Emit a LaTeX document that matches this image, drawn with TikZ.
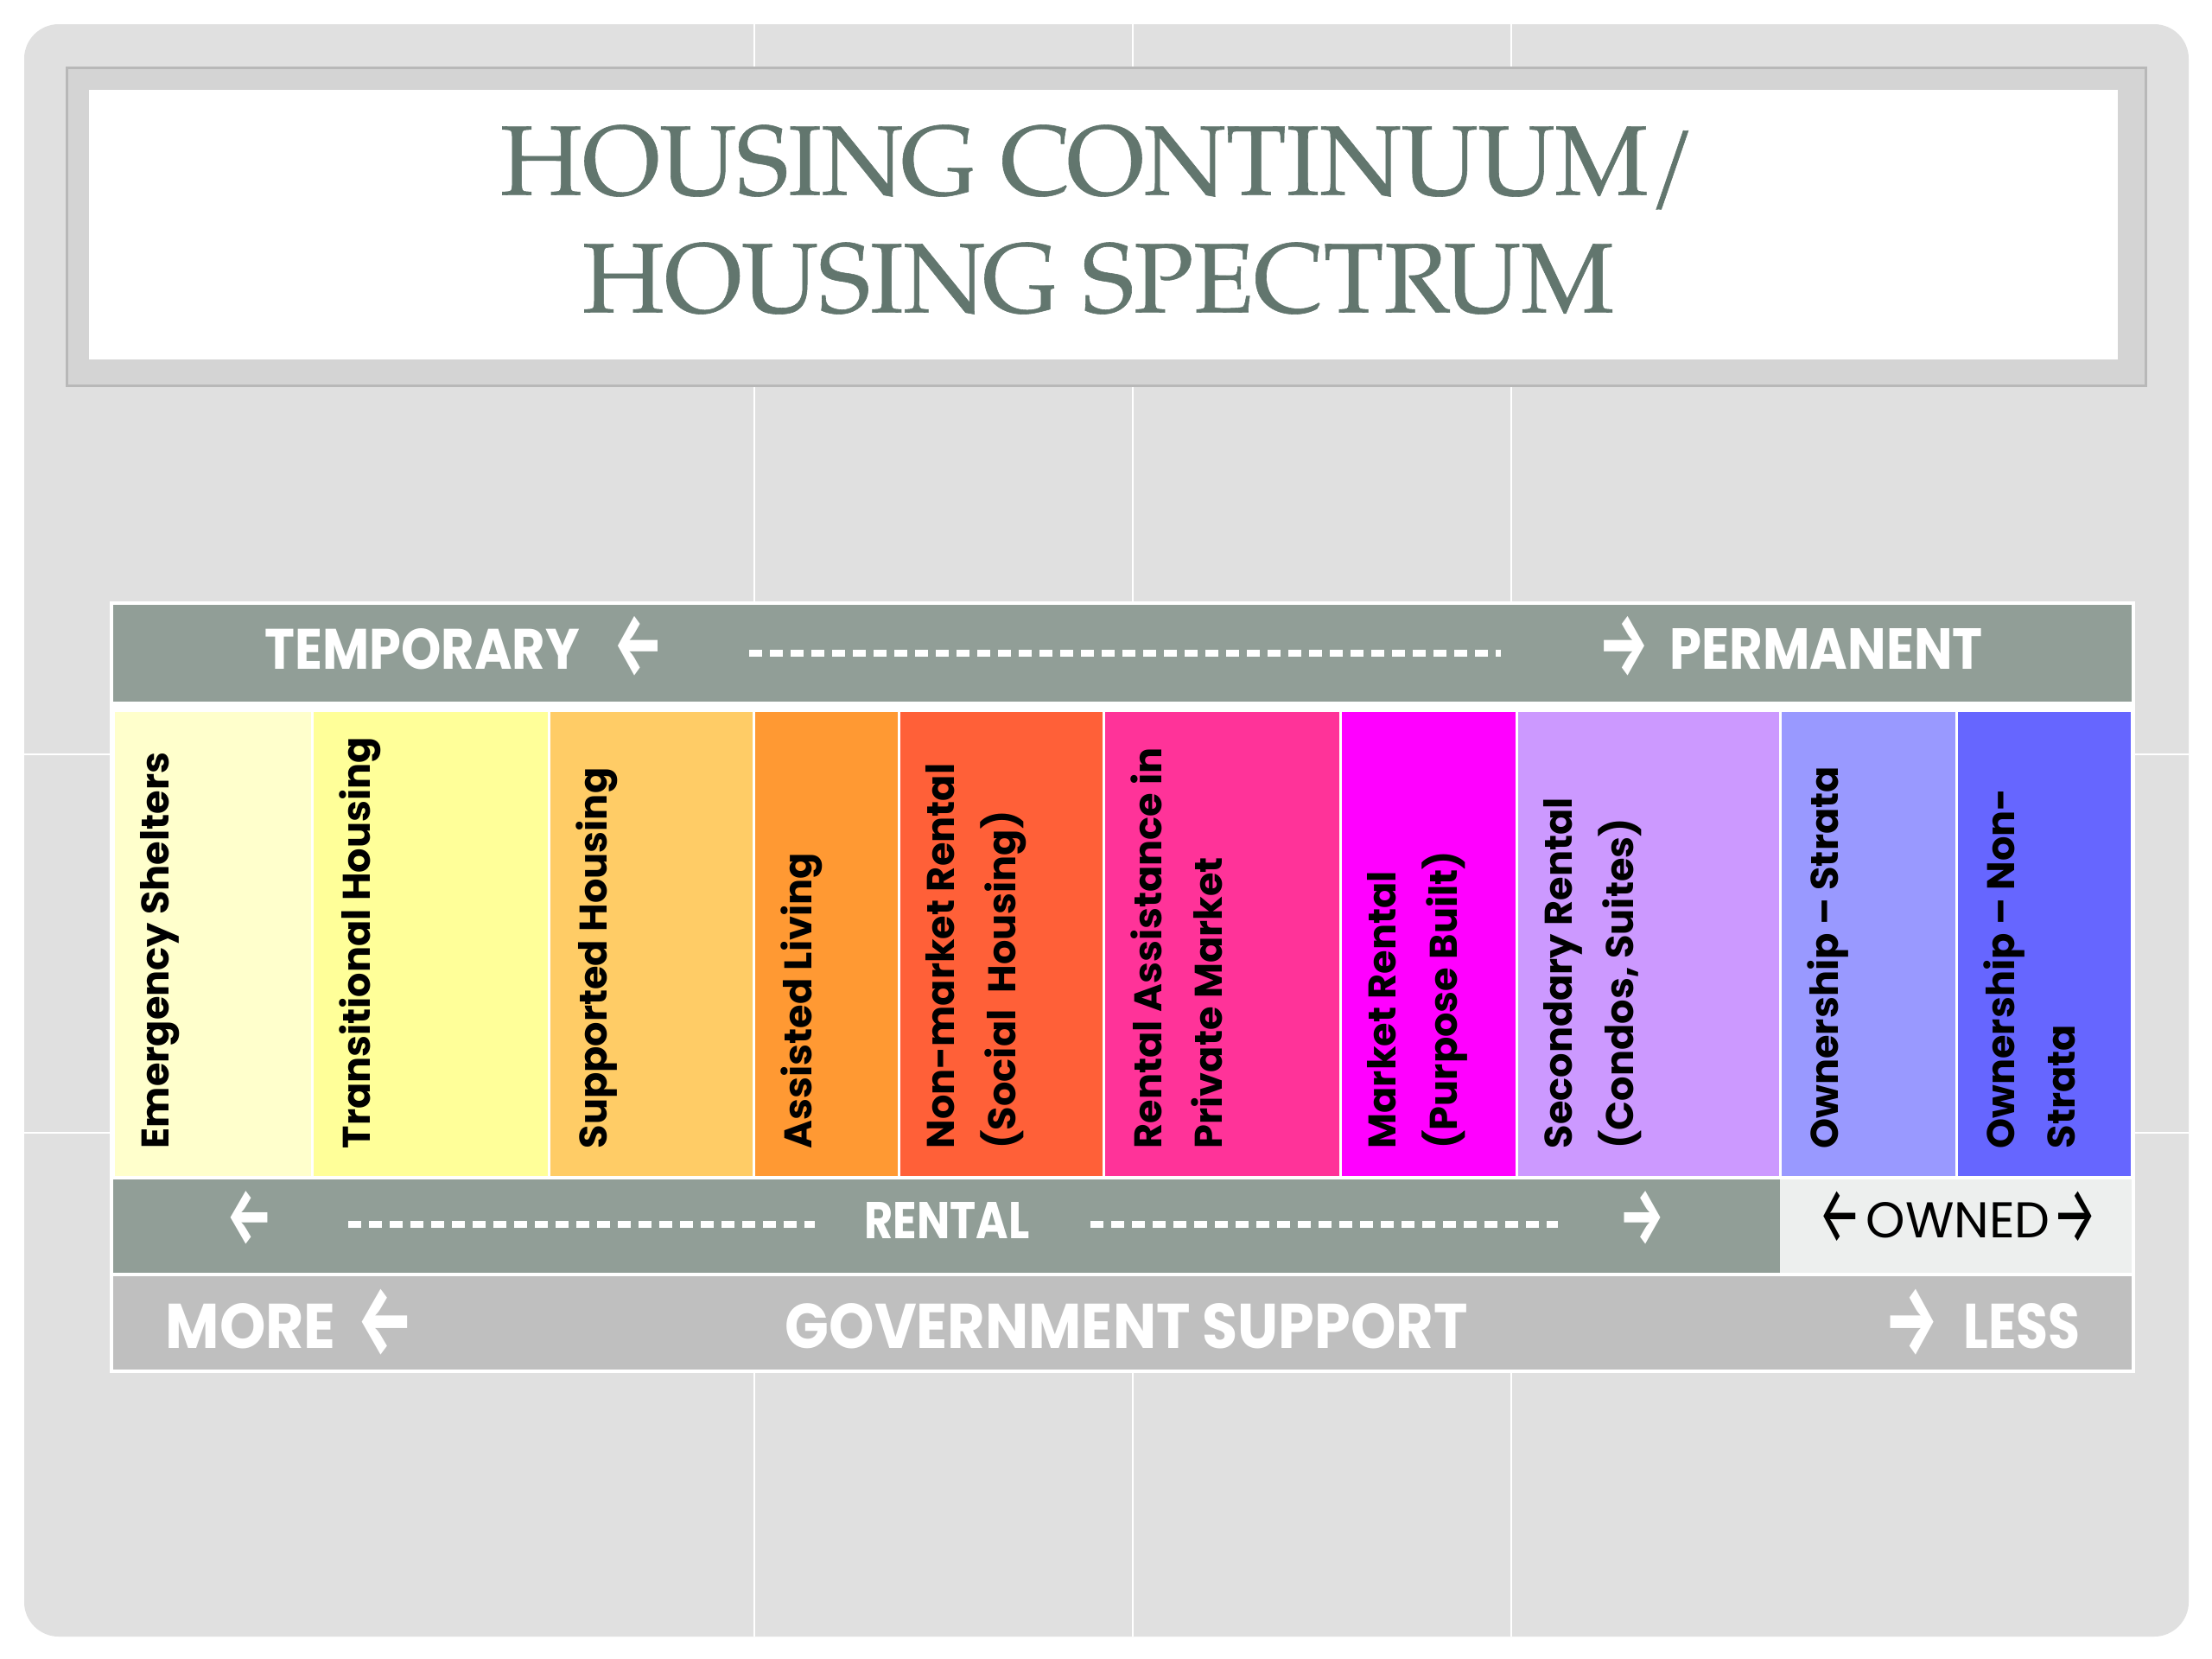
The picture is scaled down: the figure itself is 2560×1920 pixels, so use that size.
\documentclass[tikz,border=0pt]{standalone}
\usepackage{fontspec}
\usepackage{graphicx}
\setsansfont{Poppins}
\newfontfamily\arrowfont{Fira Sans}
\newfontfamily\titleface{texgyrepagella-regular.otf}[FakeBold=0.5]

\definecolor{slideGray}{HTML}{E0E0E0}
\definecolor{frameGray}{HTML}{D4D4D4}
\definecolor{frameEdge}{HTML}{B8B8B8}
\definecolor{titleGreen}{HTML}{62766E}
\definecolor{barGreen}{HTML}{919E97}
\definecolor{ownedGray}{HTML}{EDEFEE}
\definecolor{govGray}{HTML}{BFBFBF}
\definecolor{cShelter}{HTML}{FFFFCC}
\definecolor{cTransit}{HTML}{FFFF99}
\definecolor{cSupport}{HTML}{FFCC66}
\definecolor{cAssist}{HTML}{FF9933}
\definecolor{cNonMarket}{HTML}{FF6038}
\definecolor{cRentAssist}{HTML}{FF3399}
\definecolor{cMarket}{HTML}{FF00FF}
\definecolor{cSecondary}{HTML}{CC99FF}
\definecolor{cStrata}{HTML}{9999FF}
\definecolor{cNonStrata}{HTML}{6666FF}

\newcommand\cellfont{\sffamily\bfseries\fontsize{12.7pt}{20pt}\selectfont}
\newcommand\titlefont{\titleface\fontsize{33pt}{38.7pt}\selectfont}
% arrow glyph stretched to the cap height #2
\newcommand\arrL[2]{\raisebox{-0.1525\dimexpr#2\relax}{\arrowfont\resizebox{#1}{1.45\dimexpr#2\relax}{←}}}
\newcommand\arrR[2]{\raisebox{-0.1525\dimexpr#2\relax}{\arrowfont\resizebox{#1}{1.45\dimexpr#2\relax}{→}}}

\begin{document}
\begin{tikzpicture}[
  x=0.1mm, y=-0.1mm,
  cell/.style={rotate=90,anchor=north west,inner sep=3.1mm,align=left,font=\cellfont},
  bartext/.style={text=white,inner sep=0pt,anchor=base west,font=\sffamily\bfseries},
  dashline/.style={white,line width=0.8mm,dash pattern=on 1.5mm off 0.9mm},
  seam/.style={white,line width=0.2mm}
]
\useasboundingbox (0,0) rectangle (2560,1920);
\fill[white] (0,0) rectangle (2560,1920);

% slide background
\fill[slideGray,rounded corners=4mm] (28,28) rectangle (2533,1894);
\foreach \s in {873,1311,1749}
  \draw[seam] (\s,28) -- (\s,1894);
\foreach \s in {873,1311}
  \draw[seam] (28,\s) -- (2533,\s);

% title
\filldraw[fill=frameGray,draw=frameEdge,line width=0.3mm] (77,78) rectangle (2483,446);
\fill[white] (103,104) rectangle (2451,416);
\node[font=\titlefont,text=titleGreen,align=center,inner sep=0pt] (title) at (1271,254)
  {\resizebox{138.4mm}{!}{HOUSING CONTINUUM/}\\\resizebox{119.4mm}{!}{HOUSING SPECTRUM}};

% spectrum block
\fill[white] (127,696) rectangle (2471,1589);
\fill[barGreen] (131,700) rectangle (2467,812);
\foreach \xa/\xb/\col/\txt [count=\i] in {
  131/361/cShelter/{Emergency Shelters},
  361/635/cTransit/{Transitional Housing},
  635/872/cSupport/{Supported Housing},
  872/1040/cAssist/{Assisted Living},
  1040/1277/cNonMarket/{Non-market Rental\\(Social\ \ Housing)},
  1277/1551/cRentAssist/{Rental Assistance in\\Private Market},
  1551/1755/cMarket/{Market Rental\\(Purpose Built)},
  1755/2060/cSecondary/{Secondary Rental\\(Condos, Suites)},
  2060/2264/cStrata/{Ownership – Strata},
  2264/2467/cNonStrata/{Ownership – Non-\\Strata}}{
  \fill[\col] (\xa+1.5,824) rectangle (\xb-1.5,1361);
  \node[cell] (cell\i) at (\xa,1361) {\txt};
}
\fill[barGreen] (131,1365) rectangle (2060,1473);
\fill[ownedGray] (2060,1365) rectangle (2467,1473);
\fill[govGray] (131,1477) rectangle (2467,1585);

% top bar
\node[bartext] (temp) at (306,774) {\resizebox{36.4mm}{4.7mm}{TEMPORARY}\hspace{4mm}\arrL{5.7mm}{4.7mm}};
\node[bartext] (perm) at (1850,774) {\arrR{5.8mm}{4.7mm}\hspace{2.4mm}\resizebox{36.2mm}{4.7mm}{PERMANENT}};
\coordinate (td1) at (867,756);
\coordinate (td2) at (1737,756);
\draw[dashline] (td1) -- (td2);

% rental bar
\node[bartext] (rentL) at (262,1433) {\arrL{5.3mm}{4.2mm}};
\node[bartext] (rental) at (1000,1433) {\resizebox{19.1mm}{4.2mm}{RENTAL}};
\node[bartext] (rentR) at (1874,1433) {\arrR{5.2mm}{4.2mm}};
\coordinate (rd1) at (403,1417);
\coordinate (rd2) at (943,1417);
\coordinate (rd3) at (1262,1417);
\coordinate (rd4) at (1803,1417);
\draw[dashline] (rd1) -- (rd2);
\draw[dashline] (rd3) -- (rd4);
\node[bartext,text=black,font=\sffamily] (owned) at (2104,1432)
  {\arrL{5mm}{4.1mm}\hspace{0.5mm}\resizebox{21.3mm}{4.1mm}{OWNED}\hspace{0.3mm}\arrR{5.2mm}{4.1mm}};

% government support bar
\node[bartext] (more) at (191,1560) {\resizebox{19.7mm}{5.2mm}{MORE}\hspace{2.5mm}\arrL{6.5mm}{5.2mm}};
\node[bartext] (gov) at (908,1560) {\resizebox{79mm}{5.2mm}{GOVERNMENT SUPPORT}};
\node[bartext] (less) at (2181,1560) {\arrR{6.2mm}{5.2mm}\hspace{2.9mm}\resizebox{13.5mm}{5.2mm}{LESS}};
\end{tikzpicture}
\end{document}
